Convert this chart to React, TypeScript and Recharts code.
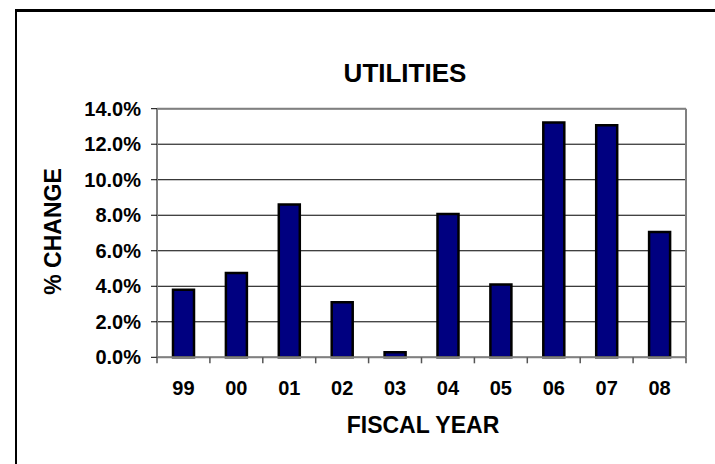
import React from 'react';
import { BarChart, Bar, XAxis, YAxis, CartesianGrid, ReferenceLine } from 'recharts';

const years = ['99', '00', '01', '02', '03', '04', '05', '06', '07', '08'];
const changes = [3.8, 4.75, 8.6, 3.1, 0.28, 8.07, 4.1, 13.22, 13.07, 7.06];
const yTicks = [0, 2, 4, 6, 8, 10, 12, 14];
const chartTitle = 'UTILITIES';
const xTitle = 'FISCAL YEAR';
const yTitle = '% CHANGE';

const data = years.map((y, i) => ({ year: y, change: changes[i] }));

const FONT = '"Liberation Sans", Arial, sans-serif';
const GRAY = '#808080';

const W = 715;
const H = 464;
const Y_AXIS_W = 157;
const RIGHT_AXIS_W = 1;
const MARGIN_RIGHT = 28;
const PLOT_W = W - Y_AXIS_W - RIGHT_AXIS_W - MARGIN_RIGHT;
const X_TICK_SIZE = 6;
const X_TICK_MARGIN = 17;
const X_TICK_GAP = X_TICK_SIZE + X_TICK_MARGIN;

const XTick = (props: any) => {
  const { x, y, payload, index } = props;
  const half = PLOT_W / years.length / 2;
  const axisY = y - X_TICK_GAP;
  const isLast = index === years.length - 1;
  return (
    <g>
      <line x1={x - half} x2={x - half} y1={axisY} y2={axisY + X_TICK_SIZE} stroke="#555" strokeWidth={1.5} />
      {isLast && (
        <line x1={x + half} x2={x + half} y1={axisY} y2={axisY + X_TICK_SIZE} stroke="#555" strokeWidth={1.5} />
      )}
      <text
        x={x}
        y={y}
        dy="0.71em"
        textAnchor="middle"
        fill="#000"
        fontSize={20}
        fontWeight="bold"
        fontFamily={FONT}
      >
        {payload.value}
      </text>
    </g>
  );
};

export default function App() {
  return (
    <div
      style={{
        position: 'absolute',
        left: 0,
        top: 0,
        width: W,
        height: H,
        background: '#fff',
        overflow: 'hidden',
        fontFamily: FONT,
      }}
    >
      <div
        style={{
          position: 'absolute',
          left: 15,
          top: 9,
          width: 800,
          height: 600,
          borderTop: '3px solid #000',
          borderLeft: '2px solid #000',
        }}
      />
      <div style={{ position: 'absolute', left: 0, top: 0 }}>
        <BarChart
          width={W}
          height={H}
          data={data}
          margin={{ top: 108.7, right: MARGIN_RIGHT, bottom: 66.7, left: 0 }}
        >
          <CartesianGrid vertical={false} stroke="#000" strokeWidth={1} />
          <XAxis
            dataKey="year"
            height={40}
            interval={0}
            axisLine={{ stroke: GRAY, strokeWidth: 2 }}
            tickLine={false}
            tickSize={X_TICK_SIZE}
            tickMargin={X_TICK_MARGIN}
            tick={XTick}
          />
          <YAxis
            width={Y_AXIS_W}
            domain={[0, 14]}
            ticks={yTicks}
            interval={0}
            tickFormatter={(v: number) => `${v.toFixed(1)}%`}
            tickSize={6}
            tickMargin={10}
            axisLine={{ stroke: GRAY, strokeWidth: 2 }}
            tickLine={{ stroke: '#000', strokeWidth: 1 }}
            tick={{ fill: '#000', fontSize: 20, fontWeight: 'bold', fontFamily: FONT }}
          />
          <YAxis
            yAxisId="r"
            orientation="right"
            width={RIGHT_AXIS_W}
            domain={[0, 14]}
            tick={false}
            tickLine={false}
            axisLine={{ stroke: GRAY, strokeWidth: 2 }}
          />
          <ReferenceLine y={14} stroke={GRAY} strokeWidth={2} />
          <Bar
            dataKey="change"
            fill="#000080"
            stroke="#000"
            strokeWidth={2.5}
            barSize={21}
            isAnimationActive={false}
          />
        </BarChart>
      </div>
      <svg
        width={W}
        height={H}
        style={{ position: 'absolute', left: 0, top: 0, pointerEvents: 'none' }}
      >
        <text x={405} y={82} textAnchor="middle" fontSize={26} fontWeight="bold" fontFamily={FONT} fill="#000">
          {chartTitle}
        </text>
        <text x={423} y={433} textAnchor="middle" fontSize={23} fontWeight="bold" fontFamily={FONT} fill="#000">
          {xTitle}
        </text>
        <text
          x={61}
          y={231.5}
          textAnchor="middle"
          fontSize={23}
          fontWeight="bold"
          fontFamily={FONT}
          fill="#000"
          transform="rotate(-90 61 231.5)"
        >
          {yTitle}
        </text>
      </svg>
    </div>
  );
}
